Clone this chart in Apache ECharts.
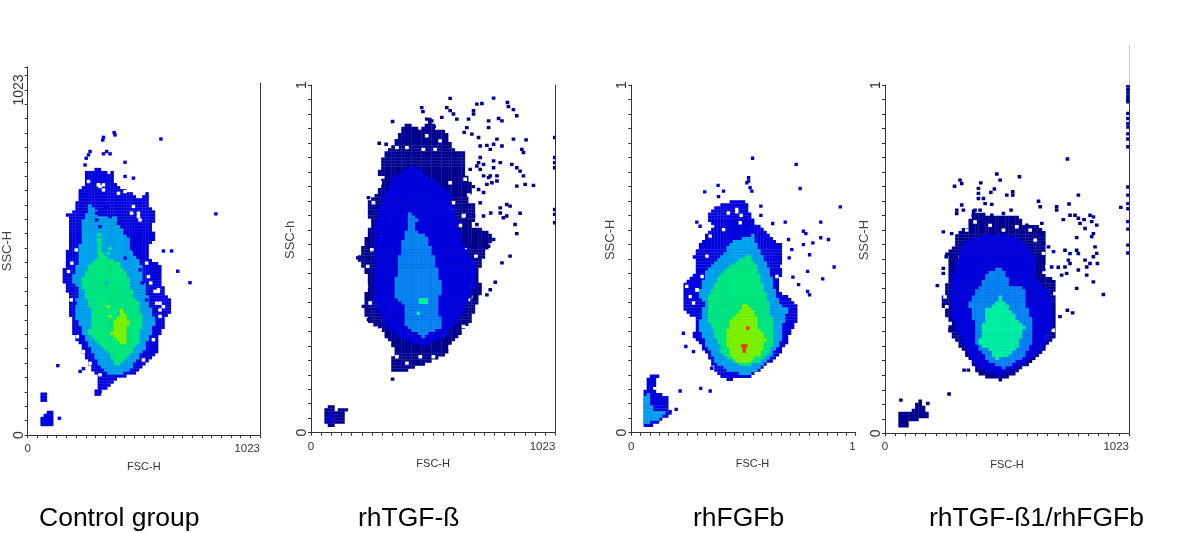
<!DOCTYPE html>
<html><head><meta charset="utf-8">
<style>html,body{margin:0;padding:0;background:#fff}#c{width:1200px;height:533px}</style>
<script src="https://cdn.jsdelivr.net/npm/echarts@6/dist/echarts.min.js"></script></head>
<body><div id="c"></div>
<script>
// Density regions: [FSC, SSC] outlines in channel units (0-1023)
const captions = ["Control group", "rhTGF-ß", "rhFGFb", "rhTGF-ß1/rhFGFb"];
const yNames = ["SSC-H", "SSC-h", "SSC-H", "SSC-H"];
const xNames = ["FSC-H", "FSC-H", "FSC-H", "FSC-H"];
const yMaxLabels = ["1023", "1", "1", "1"];
const xMaxLabels = ["1023", "1023", "1", "1023"];

const p1Blue = [[303,796],[347,777],[377,781],[384,747],[421,727],[450,722],[487,698],[523,717],[538,707],[531,678],[560,668],[567,633],[545,623],[560,584],[531,559],[538,520],[589,500],[582,460],[611,411],[633,406],[633,362],[604,352],[607,327],[582,302],[567,243],[523,218],[465,179],[391,169],[369,149],[333,134],[311,115],[296,124],[318,164],[281,194],[259,228],[230,268],[201,302],[194,342],[179,371],[179,421],[154,460],[164,510],[186,579],[186,628],[169,653],[208,663],[230,727],[252,737],[245,777],[289,786]];
const p1BlueA = [[51,124],[91,124],[76,97],[54,97]];
const p1BlueB = [[54,55],[95,70],[113,73],[110,28],[54,28]];
const p1Azure = [[274,683],[318,648],[384,648],[443,579],[465,530],[494,510],[509,460],[531,391],[560,342],[538,292],[501,243],[443,189],[377,174],[333,189],[281,253],[237,312],[208,362],[223,431],[194,460],[223,510],[230,559],[245,638]];
const p1Green = [[311,599],[333,530],[399,510],[443,470],[457,421],[494,381],[501,332],[487,273],[443,233],[391,204],[355,243],[303,273],[267,302],[286,352],[237,451],[267,500],[303,520]];
const p1Lime = [[399,381],[443,342],[435,273],[413,268],[369,302],[384,337],[406,352]];
const p1Dots = [[384,890],[380,897],[333,883],[330,875],[586,878],[267,831],[257,821],[274,841],[347,841],[333,834],[362,834],[428,809],[428,767],[465,762],[828,656],[633,546],[597,546],[660,486],[714,452],[132,206],[230,189],[245,197],[139,50],[318,129],[252,801]];
const p1Holes = [[318,737],[333,742],[311,742],[560,426],[574,426],[582,391],[582,371],[494,638],[487,658],[465,678],[194,510],[179,485],[213,549],[191,401],[218,292],[245,248],[531,470],[541,451],[487,648],[457,658],[428,722],[399,717],[267,752],[311,742],[333,727],[523,510],[575,431],[567,391],[597,381],[582,352],[553,283],[509,223],[274,213],[318,179]];
const p1BlueSpecks = [[303,658],[303,638],[318,618],[347,678],[362,648],[399,628],[428,599],[465,549],[428,525],[494,490],[503,451],[523,401],[194,431],[208,391]];
const p1GreenSpecks = [[314,594],[311,579],[355,539],[362,554],[281,421]];
const p1SkySpecks = [[347,451],[259,381],[274,332],[318,253]];
const p1LimeSpecks = [[413,371],[428,352],[355,381],[362,352]];

const p2Navy = [[345,849],[394,908],[429,903],[463,889],[498,928],[526,893],[568,884],[589,834],[645,825],[652,746],[680,726],[652,677],[694,667],[673,608],[764,584],[736,539],[708,490],[701,441],[722,431],[694,382],[666,323],[610,283],[568,234],[484,205],[387,180],[345,175],[331,205],[352,244],[303,293],[268,323],[233,323],[226,392],[240,460],[198,510],[226,569],[247,608],[240,677],[275,706],[310,756],[282,756],[303,815]];
const p2NavyA = [[56,72],[87,82],[101,67],[149,72],[135,30],[80,20],[59,30]];
const p2Blue = [[345,756],[429,785],[526,736],[582,697],[610,628],[638,559],[680,500],[694,441],[652,382],[610,323],[554,283],[470,254],[387,274],[317,313],[261,382],[261,480],[261,579],[289,677]];
const p2BlueA = [[66,52],[94,52],[87,30],[66,30]];
const p2Azure = [[401,657],[443,628],[429,598],[484,574],[512,520],[526,480],[547,426],[526,382],[551,313],[470,283],[394,313],[387,372],[352,401],[359,480],[380,559],[408,608]];
const p2Mint = [[458,392],[470,392],[482,392],[458,384],[470,384],[482,384],[449,352]];
const p2Dots = [[582,984],[764,985],[715,969],[694,967],[822,972],[826,960],[847,951],[680,948],[680,938],[463,957],[468,945],[568,957],[582,948],[596,938],[610,923],[547,928],[484,923],[505,918],[515,901],[341,916],[861,933],[785,925],[799,918],[743,918],[743,898],[659,923],[652,898],[641,884],[673,879],[701,869],[708,844],[736,846],[764,849],[799,844],[847,864],[900,862],[882,834],[889,825],[285,852],[314,849],[708,810],[722,790],[764,800],[792,795],[840,790],[861,780],[875,770],[889,756],[896,731],[931,728],[861,726],[778,741],[750,756],[736,731],[722,707],[701,716],[819,672],[792,647],[805,633],[875,646],[854,613],[861,586],[722,638],[752,647],[694,613],[799,500],[833,520],[771,443],[750,421],[736,406],[195,515],[240,692],[247,647],[219,372],[240,333],[268,318],[341,158],[1020,869],[1020,810],[1020,795],[1020,780],[1020,657],[1020,643],[1020,618],[757,736],[778,756],[743,751],[764,780],[708,775],[722,756],[694,785],[666,775],[708,677],[680,638],[708,598],[743,549],[764,569],[722,559],[819,638],[792,662],[833,667],[652,638],[701,795],[750,834],[778,864]];
const p2Holes = [[660,700],[640,640],[625,610],[690,520],[668,400],[484,874],[540,859],[359,839],[401,839],[470,834],[519,834],[596,874],[624,859],[289,736],[261,677],[289,579],[254,539],[237,490],[231,431],[247,382],[289,303],[359,224],[401,205],[457,224],[512,224],[582,254],[638,313],[659,392],[673,431],[645,539],[596,677],[589,657],[638,638],[645,746],[582,736]];

const p3Blue = [[465,682],[518,682],[541,647],[564,618],[602,598],[648,569],[693,549],[686,480],[663,421],[708,401],[762,367],[754,333],[708,264],[663,224],[617,200],[541,165],[435,155],[382,180],[344,234],[283,283],[298,333],[237,362],[245,441],[298,480],[283,520],[328,569],[374,608],[344,638],[389,667]];
const p3BlueA = [[78,160],[116,180],[123,167],[100,126],[169,101],[176,57],[138,37],[100,23],[55,20],[50,72],[62,126]];
const p3Azure = [[465,564],[556,584],[579,539],[617,500],[648,431],[670,382],[716,362],[693,323],[678,264],[617,210],[541,170],[450,180],[389,205],[344,254],[305,313],[336,382],[306,401],[336,470],[420,529]];
const p3AzureA = [[67,121],[85,121],[93,67],[154,62],[123,37],[62,28],[55,72]];
const p3Green = [[534,524],[572,490],[602,431],[625,382],[648,313],[640,254],[587,205],[496,200],[420,224],[382,283],[344,352],[351,401],[397,460],[450,490]];
const p3Lime = [[518,382],[556,362],[579,313],[610,274],[587,229],[526,205],[458,215],[427,283],[458,342],[496,357]];
const p3Red = [[507,256],[521,256],[514,247],[514,240],[530,308]];
const p3Dots = [[222,123],[316,131],[359,123],[204,69],[176,62],[552,808],[751,790],[769,719],[952,665],[534,741],[534,751],[526,736],[541,721],[549,711],[334,709],[395,728],[397,695],[420,711],[590,667],[590,640],[644,616],[701,620],[863,620],[784,593],[795,586],[863,574],[898,569],[827,559],[784,554],[716,569],[731,539],[719,515],[812,524],[803,475],[924,488],[872,453],[736,458],[762,436],[803,416],[812,406],[298,620],[313,608],[237,293],[248,254],[283,239],[366,190]];
const p3Holes = [[600,410],[690,430],[700,445],[300,420],[480,650],[500,640],[268,401],[283,382],[252,431],[298,421],[322,460],[344,520],[359,579],[420,598],[442,647],[480,657],[496,618],[663,460],[686,490],[708,411],[745,293],[678,214]];

const p4Navy = [[370,656],[454,636],[552,636],[587,612],[636,617],[664,597],[671,548],[664,470],[719,441],[719,372],[712,284],[664,245],[608,210],[552,176],[489,157],[426,162],[377,181],[363,215],[307,255],[300,269],[265,303],[265,333],[237,382],[251,421],[272,470],[258,529],[293,548],[300,587],[349,607],[363,646]];
const p4NavyA = [[56,59],[119,69],[144,100],[161,78],[177,64],[177,49],[98,31],[91,20],[56,20]];
const p4Blue = [[454,587],[552,578],[622,529],[636,450],[692,411],[699,323],[671,255],[580,206],[482,171],[391,191],[342,240],[286,333],[272,411],[293,490],[328,558],[384,578]];
const p4Azure = [[475,490],[503,470],[524,436],[587,426],[587,382],[610,343],[615,274],[587,225],[496,191],[433,210],[377,269],[377,323],[349,382],[384,421],[433,470]];
const p4Mint = [[482,406],[517,372],[552,338],[583,313],[555,255],[510,225],[468,220],[426,250],[391,264],[412,313],[419,362],[468,382]];
const p4Dots = [[764,806],[468,762],[482,744],[563,754],[314,744],[321,734],[291,726],[401,736],[458,718],[443,708],[391,720],[391,705],[391,690],[510,700],[535,710],[535,700],[412,690],[419,675],[447,673],[321,671],[328,656],[300,656],[300,646],[528,656],[496,646],[643,682],[650,666],[719,666],[719,656],[771,674],[810,700],[775,641],[796,641],[810,632],[817,617],[747,628],[834,628],[859,641],[873,636],[866,622],[887,612],[838,602],[873,587],[866,578],[803,575],[657,617],[650,592],[636,578],[664,558],[685,548],[706,534],[754,538],[775,528],[803,538],[810,528],[768,509],[754,489],[775,499],[810,480],[838,509],[845,489],[859,499],[873,519],[887,529],[880,548],[890,499],[698,489],[726,488],[740,465],[761,470],[845,465],[873,445],[803,426],[915,408],[764,362],[786,354],[733,343],[219,434],[244,485],[244,470],[256,519],[244,592],[279,587],[272,303],[331,186],[349,186],[268,116],[66,98],[179,88],[988,664],[1018,1020],[1018,1010],[1018,1000],[1018,990],[1018,980],[1018,974],[1018,940],[1018,925],[1018,910],[1018,900],[1018,880],[1018,865],[1018,842],[1018,724],[1018,700],[1018,675],[1018,660],[1018,622],[1018,600],[1018,553],[1018,530],[377,656],[398,656],[370,641],[447,641],[594,612],[608,597],[636,597],[657,587]];
const p4Holes = [[258,372],[251,401],[272,323],[314,519],[342,597],[377,621],[440,611],[496,597],[552,607],[608,597],[629,568],[664,529],[678,490],[712,411],[705,303],[678,284],[615,627]];

const navy = "#00008e", blue = "#0000dc", azure = "#0a84f0", sky = "#00a4ea", mint = "#00f0a0", green = "#00e87c", lime = "#7cf000", red = "#f03000", white = "#ffffff";

const panels = [
  { layers: [[blue,[p1Blue,p1BlueA,p1BlueB],p1Dots],[white,[],p1Holes],[sky,[p1Azure],[]],[blue,[],p1BlueSpecks],[green,[p1Green],p1GreenSpecks],[sky,[],p1SkySpecks],[lime,[p1Lime],p1LimeSpecks]],
    grid: {left:27.7,top:67,width:232.3,height:368,outerBoundsMode:"none"}, yMax:1091, rightTo:1044, yPad:0, xPad:0 },
  { layers: [[navy,[p2Navy,p2NavyA],p2Dots],[white,[],p2Holes],[blue,[p2Blue,p2BlueA],[]],[azure,[p2Azure],[]],[mint,[],p2Mint]],
    grid: {left:311,top:85,width:244.3,height:347.7,outerBoundsMode:"none"}, yMax:1023, rightTo:1023, yPad:38, xPad:0 },
  { layers: [[blue,[p3Blue,p3BlueA],p3Dots],[white,[],p3Holes],[sky,[p3Azure,p3AzureA],[]],[green,[p3Green],[]],[lime,[p3Lime],[]],[red,[],p3Red]],
    grid: {left:631.3,top:85,width:224.4,height:347.7,outerBoundsMode:"none"}, yMax:1023, rightTo:null, yPad:38, xPad:18 },
  { layers: [[navy,[p4Navy,p4NavyA],p4Dots],[white,[],p4Holes],[blue,[p4Blue],[]],[azure,[p4Azure],[]],[mint,[p4Mint],[]]],
    grid: {left:885,top:85,width:244,height:348.3,outerBoundsMode:"none"}, yMax:1023, rightTo:1023, yPad:38, xPad:0 }
];

const CW = 14, CH = 9, TICK = 1023 / 24;
function inside(p, poly) {
  let c = false;
  for (let i = 0, j = poly.length - 1; i < poly.length; j = i++) {
    const a = poly[i], b = poly[j];
    if ((a[1] > p[1]) !== (b[1] > p[1]) && p[0] < (b[0]-a[0]) * (p[1]-a[1]) / (b[1]-a[1]) + a[0]) c = !c;
  }
  return c;
}
function cellsOf(panel) {
  const out = [];
  panel.layers.forEach(function (layer) {
    const color = layer[0];
    layer[1].forEach(function (poly) {
      for (let x = 7; x < 1023; x += CW) for (let y = 4.5; y < 1023; y += CH)
        if (inside([x, y], poly)) out.push([x, y, color]);
    });
    layer[2].forEach(function (d) { out.push([d[0], d[1], color]); });
  });
  return out;
}
const mono = "#333";
const labelFont = "'Liberation Sans',sans-serif";
const option = {
  animation: false, backgroundColor: "#fff",
  title: captions.map(function (t, i) {
    return { text: t, left: [39,358,693,929][i], top: 505,
      textStyle: { fontFamily: "'Liberation Sans',Arial,sans-serif", fontSize: 26.5, fontWeight: "normal", color: "#000" }, padding: 0 };
  }),
  grid: panels.map(function (p) { return p.grid; }),
  xAxis: panels.map(function (p, i) {
    return { gridIndex: i, type: "value", min: 0, max: 1023, interval: TICK, splitLine: {show:false},
      name: xNames[i], nameLocation: "middle", nameGap: 26, nameMoveOverlap: false,
      nameTextStyle: { fontFamily: labelFont, fontSize: 11, color: "#333", padding: [0,0,0,p.xPad] },
      axisLine: {show:true,onZero:false,lineStyle:{color:mono,width:1}},
      axisTick: {show:true,length:3,lineStyle:{color:mono}},
      axisLabel: { fontFamily: labelFont, fontSize: 11.5, color: "#333", margin: 8, alignMaxLabel: "right", showMaxLabel: true,
        formatter: function (v) { return v === 0 ? "0" : (Math.abs(v-1023) < 1 ? xMaxLabels[i] : ""); } } };
  }),
  yAxis: panels.map(function (p, i) {
    return { gridIndex: i, type: "value", min: 0, max: p.yMax, interval: TICK, splitLine: {show:false},
      name: yNames[i], nameLocation: "middle", nameGap: 14, nameRotate: 90, nameMoveOverlap: false,
      nameTextStyle: { fontFamily: labelFont, fontSize: 13, color: "#444", padding: [0,0,0,p.yPad] },
      axisLine: {show:true,onZero:false,lineStyle:{color:mono,width:1}},
      axisTick: {show:true,length:3,lineStyle:{color:mono}},
      axisLabel: { rotate: 90, fontFamily: labelFont, fontSize: 14, color: "#333", margin: 2, showMaxLabel: true,
        formatter: function (v) { return v === 0 ? "0" : (Math.abs(v-1023) < 1 ? yMaxLabels[i] : ""); } } };
  }),
  series: panels.map(function (p, i) {
    const s = {
      type: "custom", xAxisIndex: i, yAxisIndex: i, clip: true, silent: true, progressive: 0, data: cellsOf(p),
      encode: { x: 0, y: 1 },
      renderItem: function (params, api) {
        const c = api.coord([api.value(0), api.value(1)]), sz = api.size([CW, CH]);
        const col = colorOf(params.seriesIndex, params.dataIndex);
        return { type: "rect", shape: { x: c[0]-sz[0]/2, y: c[1]-sz[1]/2, width: sz[0]+0.3, height: sz[1]+0.3 }, style: { fill: col } };
      }
    };
    if (p.rightTo !== null) s.markLine = { silent: true, symbol: "none", label: {show:false}, animation:false,
      lineStyle: { color: mono, width: 1, type: "solid" },
      data: [[{ coord: [1023, 0] }, { coord: [1023, p.rightTo] }]] };
    return s;
  }),
  graphic: [{ type: "line", silent: true, shape: { x1: 1129.5, y1: 45, x2: 1129.5, y2: 85 }, style: { stroke: "#c8c8c8", lineWidth: 1 } }]
};
const seriesCells = option.series.map(function (s) { return s.data; });
function colorOf(si, di) { return seriesCells[si][di][2]; }
echarts.init(document.getElementById("c"), null, { renderer: "canvas" }).setOption(option);
</script></body></html>
